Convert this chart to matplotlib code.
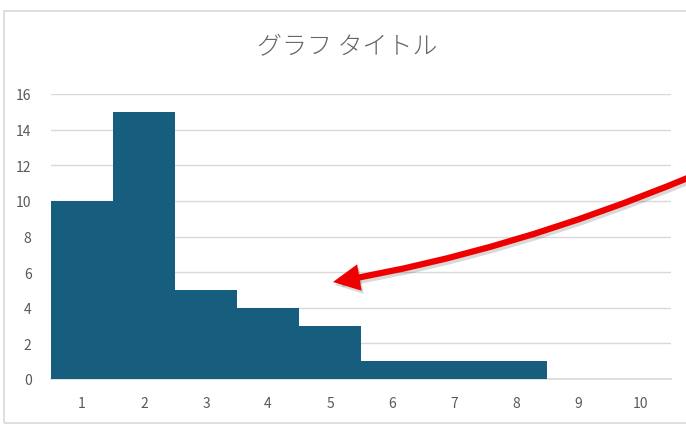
import matplotlib.pyplot as plt
from matplotlib.patches import FancyArrowPatch, Rectangle
from matplotlib.path import Path

plt.rcParams['font.family'] = ['Noto Sans CJK JP', 'DejaVu Sans']

categories = [1, 2, 3, 4, 5, 6, 7, 8, 9, 10]
counts = [10, 15, 5, 4, 3, 1, 1, 1, 0, 0]
y_ticks = [0, 2, 4, 6, 8, 10, 12, 14, 16]
title = "グラフ タイトル"

W, H = 686, 427
fig = plt.figure(figsize=(W / 100, H / 100), dpi=100)

# chart frame (right edge runs off the picture)
fig.patches.append(Rectangle((4 / W, 1 - 424 / H), 700 / W, (424 - 12) / H,
                             transform=fig.transFigure, fill=False,
                             edgecolor='#d9d9d9', linewidth=1.2))

ax = fig.add_axes([51 / W, 1 - 380 / H, 620 / W, (380 - 95) / H])
ax.bar(categories, counts, width=1.0, color='#175e7e', zorder=3)
ax.set_xlim(0.5, 10.5)
ax.set_ylim(0, 16)
ax.set_yticks(y_ticks)
ax.set_xticks(categories)
ax.grid(axis='y', color='#d9d9d9', linewidth=1, zorder=0)
for s in ['top', 'right', 'left']:
    ax.spines[s].set_visible(False)
ax.spines['bottom'].set_color('#d9d9d9')
ax.spines['bottom'].set_linewidth(1.2)
ax.tick_params(length=0, colors='#595959', labelsize=10)
ax.tick_params(axis='y', pad=14)
ax.tick_params(axis='x', pad=12)

fig.text(347 / W, 1 - 47 / H, title, ha='center', va='center',
         fontsize=18, color='#666666', fontweight='light')


def fp(x, y):
    return (x / W, 1 - y / H)


verts = [fp(690, 178), fp(510, 253), fp(333, 283)]
codes = [Path.MOVETO, Path.CURVE3, Path.CURVE3]

# soft shadow then the red arrow
shadow_verts = [(vx + 2 / W, vy - 3 / H) for vx, vy in verts]
for vs, col, a in [(shadow_verts, '#000000', 0.15), (verts, '#ee0000', 1.0)]:
    arr = FancyArrowPatch(path=Path(vs, codes),
                          arrowstyle='-|>,head_length=12,head_width=6',
                          transform=fig.transFigure, color=col, alpha=a,
                          linewidth=4.5, shrinkA=0, shrinkB=0,
                          joinstyle='miter', capstyle='butt')
    fig.patches.append(arr)

fig.savefig('out.png', dpi=100)
